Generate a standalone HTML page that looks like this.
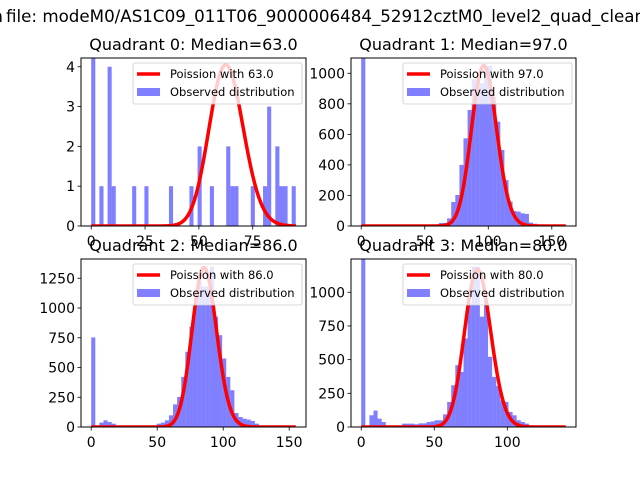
<!DOCTYPE html>
<html><head><meta charset="utf-8"><style>
html,body{margin:0;padding:0;background:#fff;}
svg{display:block;font-family:"DejaVu Sans","Liberation Sans",sans-serif;}
</style></head><body>
<svg id="fig" width="640" height="480" viewBox="0 0 640 480">
<rect width="640" height="480" fill="#fff"/>
<text x="6" y="22" font-size="16.7px" fill="#000">file: modeM0/AS1C09_011T06_9000006484_52912cztM0_level2_quad_clean.evt</text>
<text x="3" y="22" font-size="16.7px" fill="#000" text-anchor="end">Counts in</text>
</svg>
<script>
const titles = ["Quadrant 0: Median=63.0","Quadrant 1: Median=97.0","Quadrant 2: Median=86.0","Quadrant 3: Median=80.0"];
const medians = [63, 97, 86, 80];
const curvePeaks = [4.05, 1050, 1340, 1170];
const dataMax = [95, 161, 155, 140];
const yMaxes = [4.22, 1100, 1412, 1247];
const yTicks0 = [0,1,2,3,4];
const yTicks1 = [0,200,400,600,800,1000];
const yTicks2 = [0,250,500,750,1000,1250];
const yTicks3 = [0,250,500,750,1000];
const xTicks0 = [0,25,50,75];
const xTicks1 = [0,50,100,150];
const xTicks2 = [0,50,100,150];
const xTicks3 = [0,50,100];
const counts0 = [5,0,1,0,4,1,0,0,0,0,1,0,0,1,0,0,0,0,0,1,0,0,0,0,1,0,2,0,0,1,0,0,0,2,1,1,0,0,0,1,0,0,1,3,0,2,1,1,0,1];
const counts1 = [2000,0,0,10,0,0,0,0,0,0,0,0,0,0,0,0,0,0,5,20,20,50,157,203,400,574,760,960,967,935,1050,1050,847,683,498,300,160,98,94,83,79,22,15,5,5,3,3,2,2,2];
const counts2 = [753,0,37,56,42,28,3,3,3,3,3,3,3,3,3,10,28,37,56,98,190,253,421,632,843,1040,1222,1180,1180,1348,927,772,576,421,309,118,84,70,62,51,28,5,3,3,3,2,2,2,2,2];
const counts3 = [2000,5,87,122,62,37,5,5,5,5,25,25,25,20,27,27,37,42,50,50,94,186,310,459,409,657,918,1191,1191,819,948,521,372,305,198,186,112,87,50,37,25,8,5,4,3,3,2,2,2,2];

const countsAll = [counts0, counts1, counts2, counts3];
const yTicksAll = [yTicks0, yTicks1, yTicks2, yTicks3];
const xTicksAll = [xTicks0, xTicks1, xTicks2, xTicks3];
const boxes = [[81,58,306,226],[351,58,576,226],[81,259,306,427],[351,259,576,427]];
const NS = "http://www.w3.org/2000/svg";
const svg = document.getElementById('fig');
function mk(tag, attrs, parent){const e=document.createElementNS(NS,tag);for(const k in attrs)e.setAttribute(k,attrs[k]);(parent||svg).appendChild(e);return e;}
function lgamma(n){let s=0;for(let i=2;i<=n;i++)s+=Math.log(i);return s;}
function pmf(k,mu){return Math.exp(k*Math.log(mu)-mu-lgamma(k));}

for(let q=0;q<4;q++){
  const [L,T,R,B]=boxes[q];
  const dmax=dataMax[q], xmin=-0.05*dmax, xmax=1.05*dmax, ymax=yMaxes[q];
  const sx=v=>L+(v-xmin)/(xmax-xmin)*(R-L);
  const sy=v=>B-v/ymax*(B-T);
  const g=mk('g',{});
  
  
  const clipId='clip'+q;
  const cp=mk('clipPath',{id:clipId},g);
  mk('rect',{x:L,y:T,width:R-L,height:B-T},cp);
  const plot=mk('g',{'clip-path':'url(#'+clipId+')'},g);
  const counts=countsAll[q], bw=dmax/counts.length;
  counts.forEach((c,i)=>{
    if(c<=0)return;
    const r=mk('rect',{x:sx(i*bw),y:sy(c),width:sx((i+1)*bw)-sx(i*bw),height:B-sy(c),fill:'#0000ff','fill-opacity':0.5},plot);
    
    
  });
  const mu=medians[q];
  let peak=0;for(let k=0;k<=dmax;k++)peak=Math.max(peak,pmf(k,mu));
  const sc=curvePeaks[q]/peak;
  let d='';
  for(let k=0;k<=dmax;k++){d+=(k?'L':'M')+sx(k).toFixed(2)+','+sy(pmf(k,mu)*sc).toFixed(2);}
  const ln=mk('path',{d:d,fill:'none',stroke:'#ff0000','stroke-width':3.5,'stroke-linejoin':'round'},plot);
  
  
  mk('rect',{x:L,y:T,width:R-L,height:B-T,fill:'none',stroke:'#000','stroke-width':1},g);
  yTicksAll[q].forEach(t=>{
    const y=sy(t);
    mk('line',{x1:L-3.5,x2:L,y1:y,y2:y,stroke:'#000','stroke-width':0.8},g);
    const tx=mk('text',{x:L-6,y:y+5,'font-size':'14px','text-anchor':'end'},g);
    tx.textContent=t;
    
    
  });
  xTicksAll[q].forEach(t=>{
    const x=sx(t);
    mk('line',{x1:x,x2:x,y1:B,y2:B+3.5,stroke:'#000','stroke-width':0.8},g);
    const tx=mk('text',{x:x,y:B+20,'font-size':'14px','text-anchor':'middle'},g);
    tx.textContent=t;
    
    
  });
  const ti=mk('text',{x:(L+R)/2,y:T-8,'font-size':'16px','text-anchor':'middle'},g);
  ti.textContent=titles[q];
  
  
  const lg=mk('g',{},g);
  
  
  const lx=L+52, ly=T+5;
  mk('rect',{x:lx,y:ly,width:R-4-lx,height:41,rx:2,fill:'#fff','fill-opacity':0.8,stroke:'#ccc','stroke-width':0.8},lg);
  mk('line',{x1:lx+4,x2:lx+27,y1:ly+11,y2:ly+11,stroke:'#ff0000','stroke-width':3.5},lg);
  const t1=mk('text',{x:lx+37,y:ly+15,'font-size':'11.5px'},lg);
  t1.textContent='Poission with '+mu.toFixed(1);
  
  
  mk('rect',{x:lx+4,y:ly+25,width:23,height:8,fill:'#0000ff','fill-opacity':0.5},lg);
  const t2=mk('text',{x:lx+37,y:ly+33,'font-size':'11.5px'},lg);
  t2.textContent='Observed distribution';
  
  
}
</script>
</body></html>
